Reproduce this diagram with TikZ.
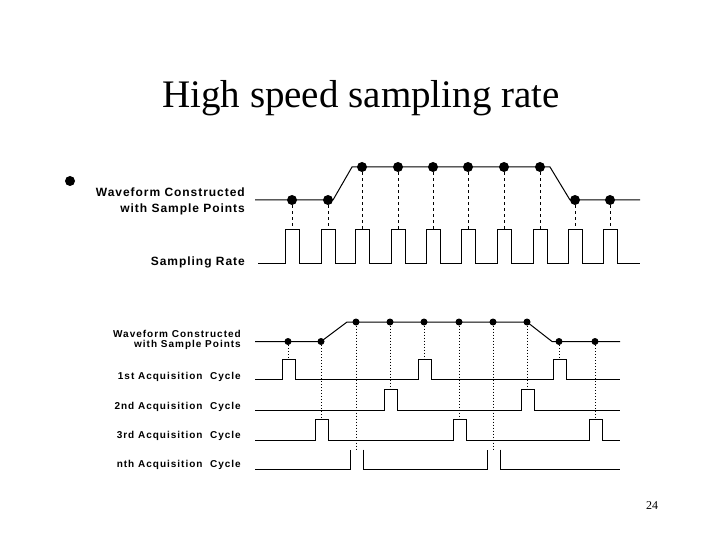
\documentclass[tikz,border=0pt]{standalone}
\usepackage{fontspec}
\setmainfont{Liberation Serif}
\newfontfamily\lab[LetterSpace=8]{Liberation Sans}
\newfontfamily\labw[LetterSpace=10]{Liberation Sans}
\begin{document}
\begin{tikzpicture}[x=1pt,y=-1pt,
  sig/.style={line width=1pt},
  dot/.style={circle,fill=black,inner sep=0pt,minimum size=#1},
  dsh/.style={dashed,dash pattern=on 3pt off 3pt,line width=0.8pt},
  dtt/.style={dash pattern=on 1.2pt off 1.8pt,line width=0.7pt},
  lbl/.style={font=\lab\bfseries\fontsize{12}{13}\selectfont,anchor=east,inner sep=0pt},
  slbl/.style={font=\labw\bfseries\fontsize{10}{10}\selectfont,anchor=east,inner sep=0pt}]
\useasboundingbox (0,0) rectangle (720,540);
\node (title) at (361,98) {\fontsize{39}{44}\selectfont High speed sampling rate};
\node (pg) at (652,506) {\fontsize{12}{14}\selectfont 24};
\node[dot=10pt] (bul) at (70,181) {};
% top
\node[lbl] (l1) at (245,192) {Waveform Constructed};
\node[lbl] (l2) at (245,209) {with Sample Points};
\node[lbl] (l3) at (245,262) {Sampling Rate};
\draw[sig] (255,200) -- (333,200) -- (352,167) -- (550,167) -- (570,200) -- (640,200);
\foreach \i/\x/\y in {1/292/200,2/328/200,3/362/167,4/398/167,5/433/167,6/468/167,7/504/167,8/540/167,9/575/200,10/610/200}{
  \node[dot=10pt] (p\i) at (\x,\y) {};
  \coordinate (q\i) at (\x,230);
  \draw[dsh] (p\i) -- (q\i);
}
\draw[sig] (258,263)
  \foreach \x in {292,328,362,398,433,468,504,540,575,610}{ -- (\x-7,263) -- (\x-7,230) -- (\x+7,230) -- (\x+7,263)} -- (640,263);
% bottom
\node[slbl] (b1) at (241,334) {Waveform Constructed};
\node[slbl] (b2) at (241,345) {with Sample Points};
\node[slbl] (c1) at (241,377) {1st Acquisition\ \ Cycle};
\node[slbl] (c2) at (241,407) {2nd Acquisition\ \ Cycle};
\node[slbl] (c3) at (241,436) {3rd Acquisition\ \ Cycle};
\node[slbl] (c4) at (241,465) {nth Acquisition\ \ Cycle};
\draw[sig] (255,341.5) -- (321,341.5) -- (347,322) -- (527,322) -- (552,341.5) -- (620,341.5);
\foreach \i/\x/\y/\t in {1/288/341.5/359.5,2/321/341.5/419,3/356/322/449,4/390/322/389,5/424/322/359.5,6/459/322/419,7/493/322/449,8/527/322/389,9/559/341.5/359.5,10/595/341.5/419}{
  \node[dot=7pt] (s\i) at (\x,\y) {};
  \coordinate (t\i) at (\x,\t);
  \draw[dtt] (s\i) -- (t\i);
}
\draw[sig] (255,379) \foreach \x in {288,424,559}{ -- (\x-6,379) -- (\x-6,359.5) -- (\x+7,359.5) -- (\x+7,379)} -- (620,379);
\draw[sig] (255,410) \foreach \x in {390,527}{ -- (\x-6,410) -- (\x-6,389) -- (\x+7,389) -- (\x+7,410)} -- (620,410);
\draw[sig] (255,440) \foreach \x in {321,459,595}{ -- (\x-6,440) -- (\x-6,419) -- (\x+7,419) -- (\x+7,440)} -- (620,440);
\draw[sig] (255,469.5) -- (350,469.5) -- (350,449.5);
\draw[sig] (363,449.5) -- (363,469.5) -- (487,469.5) -- (487,449.5);
\draw[sig] (500,449.5) -- (500,469.5) -- (620,469.5);
\end{tikzpicture}
\end{document}
